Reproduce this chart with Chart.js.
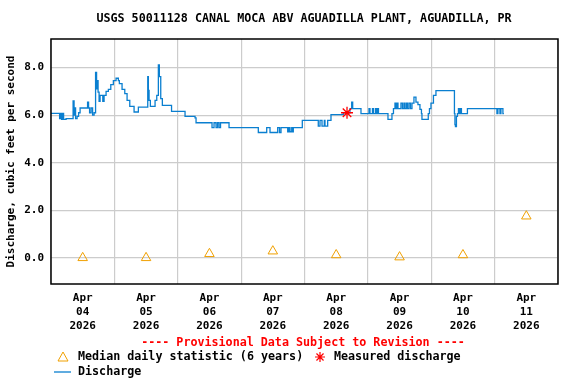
<!DOCTYPE html>
<html>
<head>
<meta charset="utf-8">
<script src="https://cdn.jsdelivr.net/npm/chart.js@4/dist/chart.umd.min.js"></script>
<style>
  body { margin: 0; background: #fff; }
  canvas { display: block; }
</style>
</head>
<body>
<canvas id="chart" width="576" height="384"></canvas>
<script>
// hours since Apr 04 2026 00:00
const dischargeHours = [
  0, 3.26, 3.63, 4.01, 4.39, 4.77, 5.72, 8.37, 8.74, 9.12, 9.31, 9.88, 10.45, 11.02,
  13.85, 14.23, 14.61, 15.18, 15.75, 16.32, 16.88, 17.26, 17.56, 17.83, 18.21, 18.59,
  19.61, 20.10, 20.86, 21.73, 22.64, 23.62, 24.64, 25.51, 25.89, 26.91, 27.94, 28.81,
  29.83, 31.46, 33.09, 36.64, 36.87, 37.14, 37.63, 39.41, 40.05, 40.66, 41.03, 41.56,
  42.17, 45.65, 50.76, 54.55, 54.93, 60.98, 61.74, 62.50, 63.07, 63.63, 64.20, 67.42,
  78.51, 81.69, 82.94, 85.85, 86.54, 87.10, 89.64, 90.13, 90.51, 91.16, 91.46, 91.76,
  95.17, 101.22, 101.87, 102.63, 103.50, 103.76, 104.78, 106.03, 110.69, 113.22, 113.87,
  114.25, 117.39, 120.42, 120.80, 121.74, 122.12, 122.88, 123.26, 123.64, 124.01,
  127.61, 129.12, 129.69, 130.26, 130.64, 131.02, 131.40, 132.53, 133.10, 133.67,
  134.05, 134.62, 134.99, 135.56, 136.13, 136.70, 137.45, 138.21, 138.96, 139.72,
  140.29, 140.48, 142.87, 143.32, 143.89, 144.83, 145.78, 152.78, 152.97, 153.16,
  153.54, 153.92, 154.30, 154.68, 155.05, 155.43, 157.70, 168.87, 169.25, 170.01,
  170.39, 171.14, 171.52
];
const dischargeValues = [
  6.07, 5.85, 6.07, 5.82, 6.07, 5.82, 5.85, 6.6, 6.0, 6.3, 5.85, 5.95, 6.1, 6.3,
  6.55, 6.3, 6.1, 6.3, 6.0, 6.1, 7.8, 7.1, 7.45, 6.97, 6.58, 6.83,
  6.58, 6.83, 7.0, 7.08, 7.28, 7.45, 7.55, 7.45, 7.32, 7.08, 6.9, 6.62,
  6.37, 6.13, 6.34, 7.62, 7.04, 6.62, 6.37, 6.62, 6.83, 8.11, 7.62, 6.69,
  6.41, 6.16, 5.95, 5.88, 5.68, 5.47, 5.68, 5.47, 5.68, 5.47, 5.68, 5.47,
  5.27, 5.47, 5.27, 5.47, 5.27, 5.47, 5.3, 5.47, 5.3, 5.47, 5.3, 5.47,
  5.78, 5.54, 5.78, 5.54, 5.78, 5.54, 5.78, 6.02, 6.1, 6.27, 6.55,
  6.27, 6.06, 6.27, 6.06, 6.27, 6.06, 6.27, 6.06, 6.27, 6.06,
  5.82, 6.06, 6.27, 6.5, 6.27, 6.5, 6.27, 6.5, 6.27, 6.5,
  6.27, 6.5, 6.27, 6.5, 6.27, 6.5, 6.76, 6.55, 6.44, 6.24,
  6.06, 5.82, 6.06, 6.27, 6.5, 6.83, 7.03, 6.06, 5.6, 5.52,
  5.95, 6.06, 6.27, 6.06, 6.27, 6.06, 6.27, 6.06, 6.27, 6.06,
  6.27, 6.06, 6.06
];

const medianHours = [12, 36, 60, 84, 108, 132, 156, 180];
const medianValues = [0.0, 0.0, 0.17, 0.28, 0.12, 0.03, 0.12, 1.75];

const measuredHours = [112.1];
const measuredValues = [6.1];

const dayLabels = ["04", "05", "06", "07", "08", "09", "10", "11"];
const yTicks = [0, 2, 4, 6, 8];

const FONT = "'DejaVu Sans Mono', monospace";
const LINE_BLUE = "#0a7fd0";
const TRI_ORANGE = "#f0a000";

const toPoints = (xs, ys) => xs.map((x, i) => ({ x: x, y: ys[i] }));

// title, frame and the bottom legend block
const decorPlugin = {
    id: "decor",
    afterDraw(chart) {
        const ctx = chart.ctx;
        const area = chart.chartArea;
        ctx.save();

        ctx.strokeStyle = "#000";
        ctx.lineWidth = 1.5;
        ctx.strokeRect(area.left, area.top, area.right - area.left, area.bottom - area.top);

        ctx.fillStyle = "#000";
        ctx.textBaseline = "middle";
        ctx.textAlign = "center";
        ctx.font = "bold 11.7px " + FONT;
        ctx.fillText("USGS 50011128 CANAL MOCA ABV AGUADILLA PLANT, AGUADILLA, PR", 304, 19);

        ctx.fillStyle = "#ff0000";
        ctx.fillText("---- Provisional Data Subject to Revision ----", 303, 343);

        const ds = chart.data.datasets;
        ctx.textAlign = "left";
        ctx.fillStyle = "#000";
        ctx.fillText(ds[1].label, 78, 357);
        ctx.fillText(ds[2].label, 334, 357);
        ctx.fillText(ds[0].label, 78, 372);

        // triangle
        ctx.strokeStyle = TRI_ORANGE;
        ctx.lineWidth = 1;
        ctx.beginPath();
        ctx.moveTo(63, 352);
        ctx.lineTo(68, 361);
        ctx.lineTo(58, 361);
        ctx.closePath();
        ctx.stroke();

        // asterisk
        ctx.strokeStyle = "#ff0000";
        ctx.lineWidth = 1.2;
        ctx.beginPath();
        for (let a = 0; a < 4; a++) {
            const ang = a * Math.PI / 4;
            ctx.moveTo(320 - 5 * Math.cos(ang), 357 - 5 * Math.sin(ang));
            ctx.lineTo(320 + 5 * Math.cos(ang), 357 + 5 * Math.sin(ang));
        }
        ctx.stroke();

        // line sample
        ctx.strokeStyle = LINE_BLUE;
        ctx.lineWidth = 1.3;
        ctx.beginPath();
        ctx.moveTo(54, 372);
        ctx.lineTo(71, 372);
        ctx.stroke();

        ctx.restore();
    }
};

const ctx = document.getElementById("chart").getContext("2d");
new Chart(ctx, {
    type: "line",
    data: {
        datasets: [
            {
                label: "Discharge",
                data: toPoints(dischargeHours, dischargeValues),
                borderColor: LINE_BLUE,
                borderWidth: 1.3,
                stepped: true,
                pointRadius: 0,
                fill: false,
                order: 3,
            },
            {
                label: "Median daily statistic (6 years)",
                data: toPoints(medianHours, medianValues),
                showLine: false,
                pointStyle: "triangle",
                pointRadius: 5.5,
                borderColor: TRI_ORANGE,
                backgroundColor: "rgba(0,0,0,0)",
                borderWidth: 1,
                order: 2,
            },
            {
                label: "Measured discharge",
                data: toPoints(measuredHours, measuredValues),
                showLine: false,
                pointStyle: "star",
                pointRadius: 6,
                borderColor: "#ff0000",
                backgroundColor: "#ff0000",
                borderWidth: 1.3,
                order: 1,
            },
        ],
    },
    options: {
        responsive: false,
        animation: false,
        events: [],
        layout: { padding: { top: 39, right: 18, left: 0, bottom: 0 } },
        plugins: {
            legend: { display: false },
            title: { display: false },
            tooltip: { enabled: false },
        },
        scales: {
            x: {
                type: "linear",
                min: 0,
                max: 192,
                afterBuildTicks: (scale) => {
                    scale.ticks = [];
                    for (let h = 0; h <= 192; h += 12) scale.ticks.push({ value: h });
                },
                afterFit: (scale) => { scale.height = 100; },
                grid: {
                    drawTicks: false,
                    color: (c) => (c.tick && c.tick.value % 24 === 0 ? "#cccccc" : "rgba(0,0,0,0)"),
                    lineWidth: 1.2,
                },
                border: { display: false },
                ticks: {
                    autoSkip: false,
                    maxRotation: 0,
                    padding: 7,
                    color: "#000",
                    font: { family: FONT, size: 11, weight: "bold", lineHeight: 1.27 },
                    callback: (v) => {
                        if (v % 24 !== 12) return "";
                        return ["Apr", dayLabels[(v - 12) / 24], "2026"];
                    },
                },
            },
            y: {
                min: -1.1,
                max: 9.2,
                afterBuildTicks: (scale) => {
                    scale.ticks = yTicks.map((v) => ({ value: v }));
                },
                afterFit: (scale) => { scale.width = 51; },
                grid: { drawTicks: false, color: "#cccccc", lineWidth: 1.2 },
                border: { display: false },
                ticks: {
                    padding: 7,
                    color: "#000",
                    font: { family: FONT, size: 11, weight: "bold" },
                    callback: (v) => v.toFixed(1),
                },
                title: {
                    display: true,
                    text: "Discharge, cubic feet per second",
                    color: "#000",
                    font: { family: FONT, size: 11, weight: "bold" },
                    padding: { top: 5, bottom: 0 },
                },
            },
        },
    },
    plugins: [decorPlugin],
});
</script>
</body>
</html>
